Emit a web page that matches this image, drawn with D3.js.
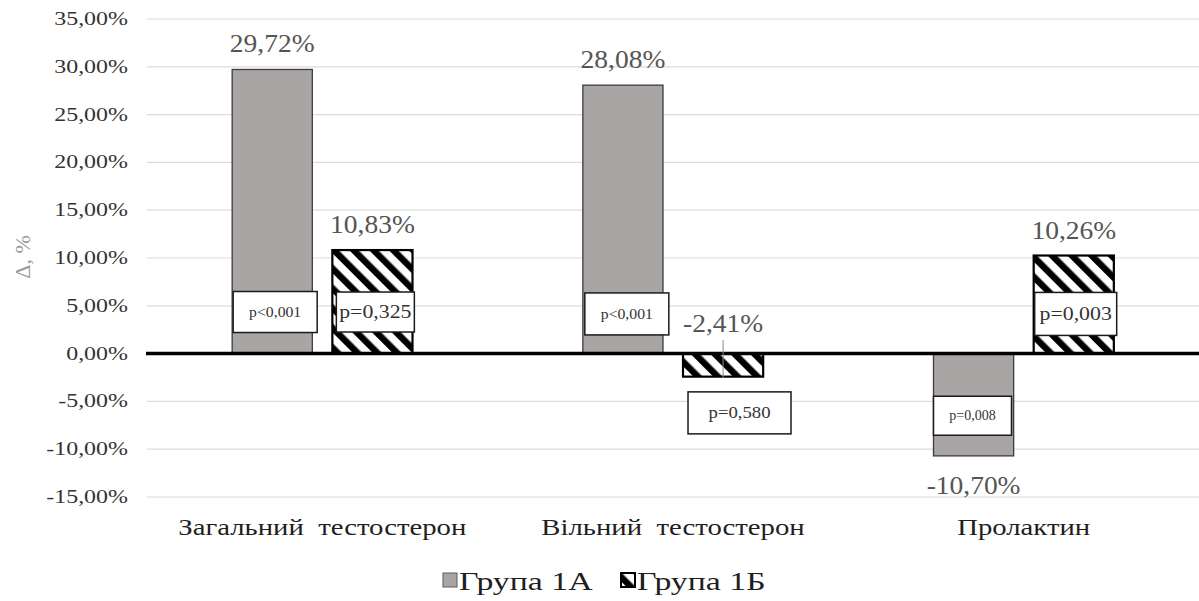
<!DOCTYPE html>
<html>
<head>
<meta charset="utf-8">
<script src="https://cdn.jsdelivr.net/npm/d3@7"></script>
<style>
  html, body { margin: 0; padding: 0; background: #fff; }
  svg { display: block; }
  svg text { white-space: pre; }
</style>
</head>
<body>
<svg id="chart" width="1199" height="601"></svg>
<script>
// Relative change (Δ, %) of hormone levels in two patient groups
const categories = ["Загальний  тестостерон", "Вільний  тестостерон", "Пролактин"];
const seriesNames = ["Група 1А", "Група 1Б"];
const group1A = [29.72, 28.08, -10.70];
const group1B = [10.83, -2.41, 10.26];
const pGroup1A = ["p<0,001", "p<0,001", "p=0,008"];
const pGroup1B = ["p=0,325", "p=0,580", "p=0,003"];
const yTicks = [-15, -10, -5, 0, 5, 10, 15, 20, 25, 30, 35];

// Placement of the p-value boxes: x offset from the bar's left edge, box centre in axis units,
// box width/height, font size and horizontal stretch of the text.
const pBoxPlacement = [
  [ {dx: 1, cy: 4.35, w: 84, h: 41, fs: 15, sx: 1.05},
    {dx: 4, cy: 4.35, w: 78, h: 40, fs: 19, sx: 1.15} ],
  [ {dx: 2, cy: 4.15, w: 84, h: 42, fs: 15, sx: 1.05},
    {dx: 5, cy: -6.2, w: 103, h: 42, fs: 17, sx: 1.1} ],
  [ {dx: 0, cy: -6.5, w: 78, h: 39, fs: 14, sx: 1.0},
    {dx: 1, cy: 4.15, w: 82, h: 43, fs: 19, sx: 1.15} ]
];

const FONT = "'Liberation Serif', 'Times New Roman', 'DejaVu Serif', serif";
const svg = d3.select("#chart");

const plotLeft = 147, plotRight = 1199;
const x0 = d3.scaleBand().domain(categories).range([plotLeft, plotRight]).paddingInner(0).paddingOuter(0);
const x1 = d3.scaleBand().domain(seriesNames).range([0, x0.bandwidth()]).paddingInner(0.2).paddingOuter(0.85);
const y = d3.scaleLinear().domain([-15, 35]).range([497, 19]);

const locale = d3.formatLocale({decimal: ",", thousands: " ", grouping: [3], currency: ["", ""], minus: "-"});
const fmt2 = locale.format(".2f");
const pct = v => fmt2(v) + "%";

// horizontally stretched serif text
function stretchedText(sel, xPos, yPos, str, opts) {
  return sel.append("text")
    .attr("transform", `translate(${xPos},${yPos}) scale(${opts.sx || 1},1)`)
    .attr("text-anchor", opts.anchor || "middle")
    .attr("font-family", FONT)
    .attr("font-size", opts.fs)
    .attr("fill", opts.fill || "#333")
    .text(str);
}

// hatch pattern for group 1Б
const defs = svg.append("defs");
const pat = defs.append("pattern")
  .attr("id", "hatch")
  .attr("patternUnits", "userSpaceOnUse")
  .attr("width", 14).attr("height", 14)
  .attr("patternTransform", "rotate(-45)");
pat.append("rect").attr("width", 14).attr("height", 14).attr("fill", "#fff");
pat.append("rect").attr("width", 6.5).attr("height", 14).attr("fill", "#000");

// gridlines
svg.append("g").selectAll("line")
  .data(yTicks.filter(d => d !== 0))
  .join("line")
  .attr("x1", plotLeft).attr("x2", plotRight)
  .attr("y1", d => y(d)).attr("y2", d => y(d))
  .attr("stroke", "#dcdcdc").attr("stroke-width", 1.2);

// y-axis tick labels
const yAxis = svg.append("g");
yTicks.forEach(t => {
  stretchedText(yAxis, 128, y(t) + 6, pct(t), {fs: 19, sx: 1.26, anchor: "end", fill: "#333"});
});

// y-axis title
svg.append("text")
  .attr("transform", "translate(30,257) rotate(-90)")
  .attr("text-anchor", "middle")
  .attr("font-family", FONT)
  .attr("font-size", 22)
  .attr("fill", "#9a9a9a")
  .text("Δ, %");

// bars
const seriesData = [group1A, group1B];
const barStyles = [
  {fill: "#a9a5a5", stroke: "#3c3c3c", sw: 1.3},
  {fill: "url(#hatch)", stroke: "#000", sw: 2.2}
];
const bars = svg.append("g");
seriesData.forEach((vals, si) => {
  bars.selectAll(null)
    .data(vals.map((v, ci) => ({v, c: categories[ci]})))
    .join("rect")
    .attr("x", d => x0(d.c) + x1(seriesNames[si]))
    .attr("width", x1.bandwidth())
    .attr("y", d => y(Math.max(0, d.v)))
    .attr("height", d => Math.abs(y(d.v) - y(0)))
    .attr("fill", barStyles[si].fill)
    .attr("stroke", barStyles[si].stroke)
    .attr("stroke-width", barStyles[si].sw);
});

// zero line
svg.append("line")
  .attr("x1", plotLeft - 1).attr("x2", plotRight)
  .attr("y1", y(0)).attr("y2", y(0))
  .attr("stroke", "#000").attr("stroke-width", 3.5);

// p-value boxes
const pLabels = [pGroup1A, pGroup1B];
const boxes = svg.append("g");
categories.forEach((c, ci) => {
  [0, 1].forEach(si => {
    const p = pBoxPlacement[ci][si];
    const bx = x0(c) + x1(seriesNames[si]) + p.dx;
    const by = y(p.cy) - p.h / 2;
    boxes.append("rect")
      .attr("x", bx).attr("y", by)
      .attr("width", p.w).attr("height", p.h)
      .attr("fill", "#fff").attr("stroke", "#1a1a1a").attr("stroke-width", 1.5);
    stretchedText(boxes, bx + p.w / 2, y(p.cy) + p.fs * 0.33, pLabels[si][ci],
      {fs: p.fs, sx: p.sx, fill: "#333"});
  });
});

// value labels
const labels = svg.append("g");
seriesData.forEach((vals, si) => {
  vals.forEach((v, ci) => {
    const cx = x0(categories[ci]) + x1(seriesNames[si]) + x1.bandwidth() / 2;
    const leader = si === 1 && ci === 1;   // small bar: label sits above the axis with a leader line
    let ly;
    if (v >= 0) ly = y(v) - 17;
    else if (leader) ly = y(2.25);
    else ly = y(v) + 38;
    stretchedText(labels, cx, ly, pct(v), {fs: 25, sx: 1.1, fill: "#555"});
    if (leader) {
      labels.append("line")
        .attr("x1", cx).attr("x2", cx)
        .attr("y1", ly + 8).attr("y2", y(v) + 1)
        .attr("stroke", "#8a8a8a").attr("stroke-width", 1);
    }
  });
});

// category labels
const xAxis = svg.append("g");
categories.forEach(c => {
  stretchedText(xAxis, x0(c) + x0.bandwidth() / 2, 535, c, {fs: 23, sx: 1.25, fill: "#1e1e1e"});
});

// legend
const legend = svg.append("g");
const legendItems = [
  {name: seriesNames[0], x: 443, fill: "#a9a5a5", stroke: "#5a5a5a", sw: 1},
  {name: seriesNames[1], x: 621, fill: "url(#hatch)", stroke: "#000", sw: 2}
];
legendItems.forEach(it => {
  legend.append("rect")
    .attr("x", it.x).attr("y", 573).attr("width", 14).attr("height", 14)
    .attr("fill", it.fill).attr("stroke", it.stroke).attr("stroke-width", it.sw);
  stretchedText(legend, it.x + 16, 590, it.name, {fs: 26, sx: 1.3, anchor: "start", fill: "#1e1e1e"});
});
</script>
</body>
</html>
